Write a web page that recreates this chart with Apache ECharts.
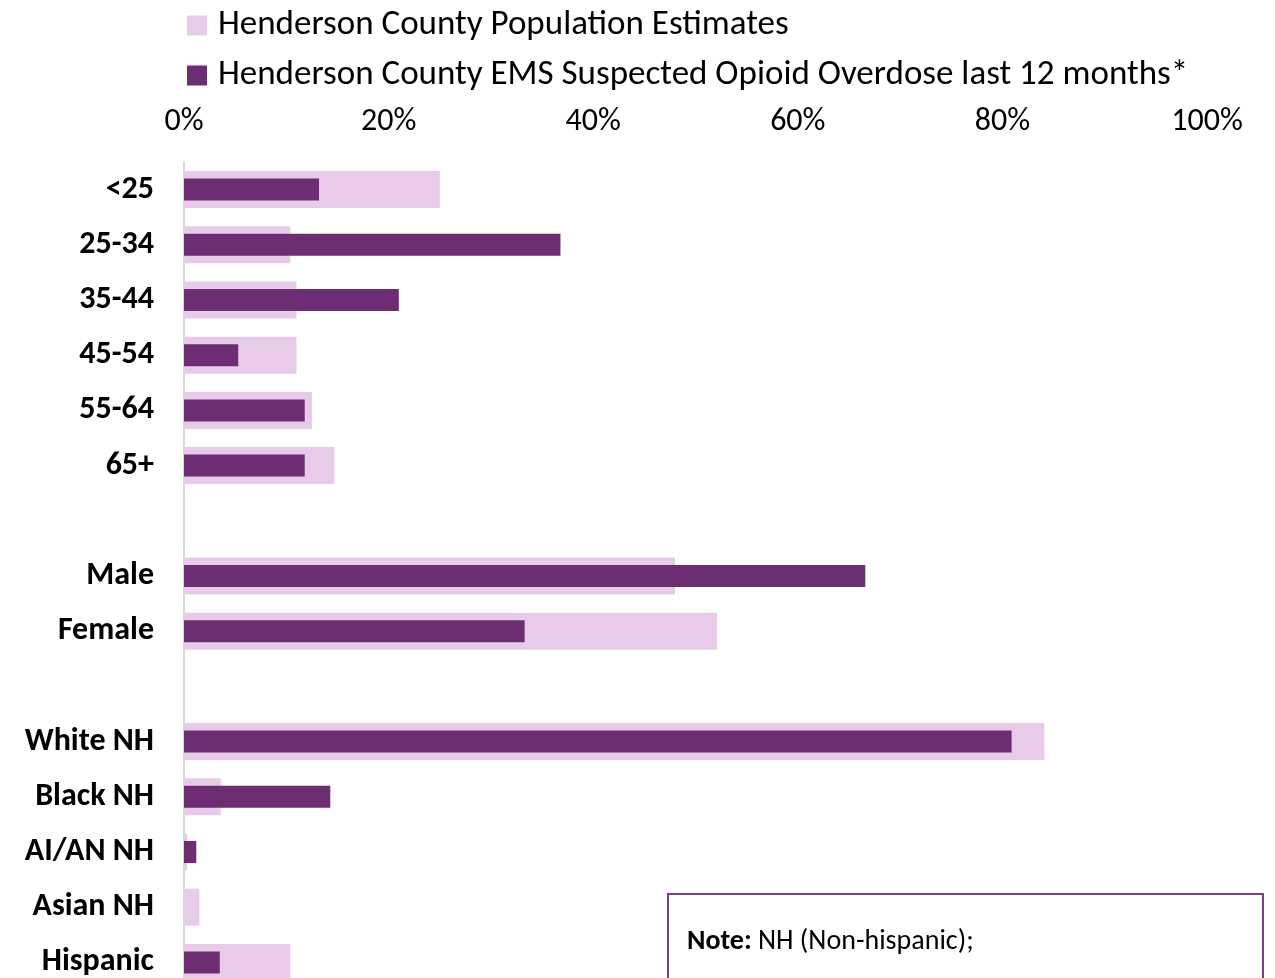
<!DOCTYPE html>
<html>
<head>
<meta charset="utf-8">
<script src="https://cdn.jsdelivr.net/npm/echarts@6/dist/echarts.min.js"></script>
<style>html,body{margin:0;padding:0;background:#fff;}#chart{width:1275px;height:978px;}</style>
</head>
<body>
<div id="chart"></div>
<script>
const categories = ['<25','25-34','35-44','45-54','55-64','65+',' ','Male','Female','  ','White NH','Black NH','AI/AN NH','Asian NH','Hispanic'];
const popEstimates = [25.0,10.4,11.0,11.0,12.5,14.7,null,48.0,52.1,null,84.1,3.6,0.3,1.5,10.4];
const emsOverdose = [13.2,36.8,21.0,5.3,11.8,11.8,null,66.6,33.3,null,80.9,14.3,1.2,0,3.5];
const xTicks = [0,20,40,60,80,100];
const seriesNames = ['Henderson County Population Estimates','Henderson County EMS Suspected Opioid Overdose last 12 months*'];

const FONT = "Carlito, 'Open Sans', sans-serif";
const chart = echarts.init(document.getElementById('chart'));
chart.setOption({
  animation: false,
  backgroundColor: '#fff',
  title: {
    text: 'Henderson County Opioid Overdose by Age, Gender and Race/Ethnicity compared to Population',
    left: 150, top: -42,
    textStyle: {fontFamily: FONT, fontSize: 40, fontWeight: 'bold', color: '#000'}
  },
  legend: {
    orient: 'vertical', left: 182, top: 3,
    itemWidth: 20, itemHeight: 20, itemGap: 15,
    data: seriesNames,
    icon: 'rect',
    textStyle: {fontFamily: FONT, fontSize: 35, lineHeight: 30, color: '#000', padding: [0,0,0,6]}
  },
  grid: {left: 184, right: 68, top: 162, height: 828, containLabel: false, outerBoundsMode: 'none'},
  xAxis: {
    type: 'value', position: 'top', min: xTicks[0], max: xTicks[xTicks.length-1], interval: 20,
    axisLine: {show: false}, axisTick: {show: false}, splitLine: {show: false},
    axisLabel: {formatter: '{value}%', fontFamily: FONT, fontSize: 32, color: '#000', margin: 24}
  },
  yAxis: [{
    type: 'category', inverse: true, data: categories,
    axisLine: {show: true, lineStyle: {color: '#D9D9D9', width: 2}},
    axisTick: {show: false},
    axisLabel: {fontFamily: FONT, fontSize: 32, fontWeight: 'bold', color: '#000', margin: 30, padding: [5,0,0,0]}
  }, {
    type: 'category', inverse: true, data: categories, position: 'left',
    axisLine: {show: false}, axisTick: {show: false}, axisLabel: {show: false}
  }],
  series: [
    {name: seriesNames[0], type: 'bar', yAxisIndex: 0, data: popEstimates, barWidth: 37,
     itemStyle: {color: '#E7CBE8'}},
    {name: seriesNames[1], type: 'bar', yAxisIndex: 1, data: emsOverdose, barWidth: 22,
     itemStyle: {color: '#6C2D72'}}
  ],
  graphic: [
    {type: 'rect', left: 667, top: 893, shape: {width: 595, height: 200},
     style: {fill: '#fff', stroke: '#7B3F87', lineWidth: 2}, z: 100},
    {type: 'text', left: 687, top: 928, z: 101,
     style: {text: '{b|Note:} NH (Non-hispanic);', fontFamily: FONT, fontSize: 28, fill: '#000',
       rich: {b: {fontFamily: FONT, fontSize: 28, fontWeight: 'bold', fill: '#000'}}}}
  ]
});
</script>
</body>
</html>
